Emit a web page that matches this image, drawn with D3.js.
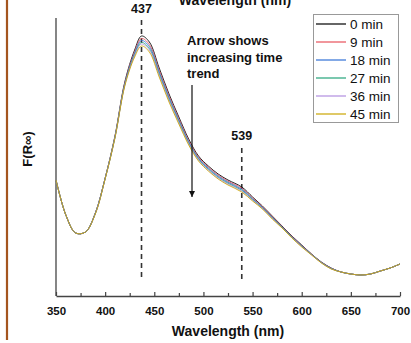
<!DOCTYPE html>
<html>
<head>
<meta charset="utf-8">
<script src="https://cdn.jsdelivr.net/npm/d3@7"></script>
<style>
  html, body { margin: 0; padding: 0; background: #fff; }
  svg { display: block; font-family: "Liberation Sans", Arial, sans-serif; }
</style>
</head>
<body>
<svg id="chart" width="411" height="343"></svg>
<script>
// ---- data ----
const wavelengths = [350,360,370,380,390,400,410,420,430,437,445,455,465,475,485,495,505,515,525,539,550,560,570,580,590,600,610,620,630,640,650,660,670,680,690,700];

const series0 = [1.16,0.81,0.63,0.64,0.83,1.18,1.60,2.14,2.46,2.60,2.54,2.28,2.02,1.79,1.57,1.40,1.30,1.22,1.16,1.09,0.99,0.90,0.80,0.70,0.60,0.51,0.42,0.34,0.28,0.24,0.22,0.21,0.22,0.25,0.28,0.32];
const series9 = [1.16,0.81,0.63,0.64,0.828,1.178,1.595,2.130,2.443,2.575,2.515,2.258,2.000,1.773,1.555,1.388,1.288,1.208,1.148,1.078,0.980,0.893,0.793,0.695,0.595,0.505,0.418,0.338,0.278,0.24,0.22,0.21,0.22,0.25,0.28,0.32];
const series18 = [1.16,0.81,0.63,0.64,0.826,1.176,1.591,2.122,2.429,2.555,2.495,2.240,1.984,1.759,1.543,1.378,1.278,1.198,1.138,1.068,0.972,0.887,0.787,0.691,0.591,0.501,0.416,0.336,0.276,0.24,0.22,0.21,0.22,0.25,0.28,0.32];
const series27 = [1.16,0.81,0.63,0.64,0.824,1.174,1.587,2.114,2.415,2.535,2.475,2.222,1.968,1.745,1.531,1.368,1.268,1.188,1.128,1.058,0.964,0.880,0.780,0.687,0.587,0.497,0.414,0.334,0.274,0.24,0.22,0.21,0.22,0.25,0.28,0.32];
const series36 = [1.16,0.81,0.63,0.64,0.822,1.172,1.584,2.108,2.404,2.520,2.460,2.208,1.956,1.734,1.522,1.360,1.260,1.180,1.120,1.050,0.958,0.876,0.776,0.684,0.584,0.494,0.412,0.332,0.272,0.24,0.22,0.21,0.22,0.25,0.28,0.32];
const series45 = [1.16,0.81,0.63,0.64,0.82,1.17,1.58,2.10,2.39,2.50,2.44,2.19,1.94,1.72,1.51,1.35,1.25,1.17,1.11,1.04,0.95,0.87,0.77,0.68,0.58,0.49,0.41,0.33,0.27,0.24,0.22,0.21,0.22,0.25,0.28,0.32];

const seriesNames = ["0 min","9 min","18 min","27 min","36 min","45 min"];
const seriesValues = [series0, series9, series18, series27, series36, series45];
const seriesColors = ["#000000","#e8505a","#2f6fd6","#22a37a","#b08ee0","#c9a400"];

const xTicks = [350,400,450,500,550,600,650,700];
const xMinorTicks = [375,425,475,525,575,625,675];
const peakMarks = [437, 539];

// ---- layout ----
const svg = d3.select("#chart");
const plotLeft = 56, plotRight = 400, plotTop = 20, plotBottom = 296;

const x = d3.scaleLinear().domain([350, 700]).range([plotLeft, plotRight]);
const y = d3.scaleLinear().domain([0, 2.76]).range([plotBottom, plotTop]);

// brown side bar
svg.append("line").attr("x1", 7).attr("x2", 7).attr("y1", 0).attr("y2", 340)
  .attr("stroke", "#a4551f").attr("stroke-width", 2.2);

// clipped top title (cut off at the top edge in the reference too)
svg.append("text").attr("x", 235).attr("y", 5).attr("text-anchor", "middle")
  .attr("font-weight", "bold").attr("font-size", 14).attr("fill", "#111").text("Wavelength (nm)");

// left axis line
svg.append("line").attr("x1", plotLeft).attr("x2", plotLeft).attr("y1", plotTop - 2).attr("y2", plotBottom)
  .attr("stroke", "#444").attr("stroke-width", 1.3);

// bottom axis
const xAxis = d3.axisBottom(x).tickValues(xTicks).tickSizeInner(-4).tickSizeOuter(0).tickPadding(11);
const gx = svg.append("g").attr("transform", `translate(0,${plotBottom})`).call(xAxis);
gx.select(".domain").attr("stroke", "#444").attr("stroke-width", 1.3);
gx.selectAll(".tick line").attr("stroke", "#444").attr("stroke-width", 1.2);
gx.selectAll(".tick text").attr("font-family", "'Liberation Sans', Arial, sans-serif")
  .attr("font-weight", "bold").attr("font-size", 11.5).attr("fill", "#111");
const xMinor = d3.axisBottom(x).tickValues(xMinorTicks).tickSize(-3).tickFormat("");
const gm = svg.append("g").attr("transform", `translate(0,${plotBottom})`).call(xMinor);
gm.select(".domain").remove();
gm.selectAll(".tick line").attr("stroke", "#444").attr("stroke-width", 1.2);

// axis titles
svg.append("text").attr("x", 228).attr("y", 336).attr("text-anchor", "middle")
  .attr("font-weight", "bold").attr("font-size", 14).attr("fill", "#111").text("Wavelength (nm)");
svg.append("text").attr("transform", "translate(32,149) rotate(-90)").attr("text-anchor", "middle")
  .attr("font-weight", "bold").attr("font-size", 13).attr("fill", "#111").text("F(R\u221E)");

// dashed peak markers
const dashTop = [20, 148];
peakMarks.forEach((p, i) => {
  svg.append("line").attr("x1", x(p)).attr("x2", x(p)).attr("y1", dashTop[i]).attr("y2", 279)
    .attr("stroke", "#333").attr("stroke-width", 1.6).attr("stroke-dasharray", "5,4");
  svg.append("text").attr("x", x(p)).attr("y", i === 0 ? 13 : 140).attr("text-anchor", "middle")
    .attr("font-weight", "bold").attr("font-size", 12.5).attr("fill", "#111").text(String(p));
});

// curves (0 min first, later times drawn over it)
const line = d3.line().x((d, i) => x(wavelengths[i])).y(d => y(d)).curve(d3.curveCatmullRom.alpha(0.5));
seriesValues.forEach((vals, idx) => {
  svg.append("path").attr("d", line(vals)).attr("fill", "none")
    .attr("stroke", seriesColors[idx]).attr("stroke-width", 1).attr("opacity", 0.85);
});

// arrow annotation
const defs = svg.append("defs");
defs.append("marker").attr("id", "ah").attr("viewBox", "0 0 10 10").attr("refX", 10).attr("refY", 5)
  .attr("markerWidth", 9).attr("markerHeight", 6).attr("markerUnits", "userSpaceOnUse").attr("orient", "auto")
  .append("path").attr("d", "M0,0 L10,5 L0,10 Z").attr("fill", "#111");
svg.append("line").attr("x1", 192).attr("x2", 192).attr("y1", 85).attr("y2", 197)
  .attr("stroke", "#111").attr("stroke-width", 1.2).attr("marker-end", "url(#ah)");
const ann = ["Arrow shows", "increasing time", "trend"];
ann.forEach((t, i) => {
  svg.append("text").attr("x", 187).attr("y", 45 + i * 16.5).attr("font-weight", "bold")
    .attr("font-size", 13).attr("fill", "#111").text(t);
});

// legend
const lg = svg.append("g");
lg.append("rect").attr("x", 313.5).attr("y", 14.5).attr("width", 85).attr("height", 108)
  .attr("fill", "#fff").attr("stroke", "#999").attr("stroke-width", 1);
seriesNames.forEach((n, i) => {
  const yy = 24 + i * 18;
  lg.append("line").attr("x1", 316).attr("x2", 346).attr("y1", yy).attr("y2", yy)
    .attr("stroke", seriesColors[i]).attr("stroke-width", 1.2);
  lg.append("text").attr("x", 350).attr("y", yy + 4.5).attr("font-size", 13.5).attr("fill", "#111").text(n);
});
</script>
</body>
</html>
